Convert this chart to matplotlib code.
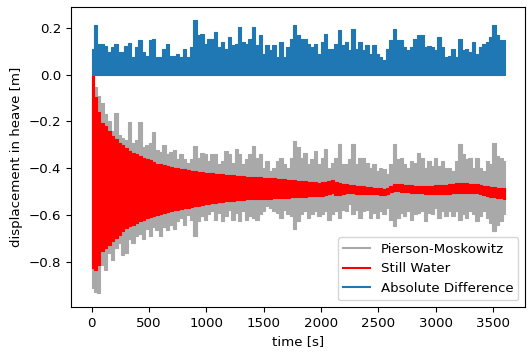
"""Heave displacement of the buoy: irregular sea (Pierson-Moskowitz) vs still water.

Each series is stored as its envelope (upper/lower extremes) sampled every
30 s over the one hour run, and drawn as a stepped band.
"""

import numpy as np
import matplotlib.pyplot as plt

SAMPLE_STEP = 30  # seconds between envelope samples

# Pierson-Moskowitz response, upper and lower extremes [m]
PM_UPPER = [
    -0.030, -0.054, -0.090, -0.120, -0.170, -0.200, -0.240, -0.162, -0.260, -0.270,
    -0.280, -0.204, -0.290, -0.280, -0.204, -0.310, -0.300, -0.290, -0.247, -0.320,
    -0.330, -0.300, -0.340, -0.330, -0.320, -0.361, -0.340, -0.361, -0.376, -0.361,
    -0.304, -0.354, -0.333, -0.340, -0.369, -0.340, -0.340, -0.383, -0.369, -0.326,
    -0.340, -0.376, -0.319, -0.340, -0.383, -0.361, -0.340, -0.304, -0.354, -0.340,
    -0.397, -0.369, -0.411, -0.397, -0.369, -0.354, -0.383, -0.397, -0.354, -0.283,
    -0.311, -0.354, -0.333, -0.383, -0.361, -0.326, -0.383, -0.354, -0.319, -0.397,
    -0.376, -0.354, -0.297, -0.380, -0.383, -0.361, -0.297, -0.383, -0.354, -0.354,
    -0.376, -0.397, -0.383, -0.411, -0.397, -0.404, -0.426, -0.383, -0.297, -0.361,
    -0.354, -0.383, -0.397, -0.369, -0.376, -0.333, -0.354, -0.397, -0.370, -0.390,
    -0.354, -0.390, -0.369, -0.397, -0.397, -0.411, -0.369, -0.297, -0.340, -0.361,
    -0.354, -0.397, -0.354, -0.397, -0.411, -0.369, -0.383, -0.290, -0.347, -0.354,
    -0.369,
]
PM_LOWER = [
    -0.911, -0.926, -0.933, -0.811, -0.833, -0.760, -0.790, -0.740, -0.720, -0.770,
    -0.760, -0.700, -0.720, -0.690, -0.680, -0.700, -0.660, -0.690, -0.650, -0.665,
    -0.690, -0.650, -0.665, -0.640, -0.660, -0.625, -0.610, -0.640, -0.600, -0.619,
    -0.690, -0.626, -0.604, -0.619, -0.597, -0.583, -0.619, -0.590, -0.626, -0.604,
    -0.576, -0.619, -0.590, -0.626, -0.583, -0.619, -0.604, -0.611, -0.619, -0.597,
    -0.583, -0.560, -0.569, -0.583, -0.590, -0.611, -0.576, -0.597, -0.604, -0.661,
    -0.626, -0.597, -0.583, -0.611, -0.597, -0.583, -0.604, -0.597, -0.583, -0.619,
    -0.597, -0.583, -0.611, -0.576, -0.583, -0.554, -0.597, -0.576, -0.611, -0.583,
    -0.576, -0.611, -0.590, -0.611, -0.583, -0.597, -0.569, -0.619, -0.647, -0.611,
    -0.590, -0.604, -0.583, -0.619, -0.597, -0.590, -0.583, -0.626, -0.590, -0.597,
    -0.569, -0.611, -0.583, -0.604, -0.583, -0.604, -0.583, -0.619, -0.597, -0.611,
    -0.583, -0.597, -0.626, -0.604, -0.583, -0.611, -0.633, -0.669, -0.640, -0.626,
    -0.597,
]

# Still water decay test, upper and lower extremes [m]
SW_UPPER = [
    0.000, -0.097, -0.160, -0.207, -0.220, -0.240, -0.261, -0.275, -0.290, -0.300,
    -0.315, -0.325, -0.333, -0.340, -0.347, -0.354, -0.360, -0.366, -0.373, -0.380,
    -0.383, -0.387, -0.390, -0.394, -0.397, -0.400, -0.402, -0.405, -0.407, -0.410,
    -0.412, -0.414, -0.416, -0.418, -0.420, -0.421, -0.423, -0.424, -0.426, -0.427,
    -0.428, -0.430, -0.431, -0.432, -0.434, -0.435, -0.436, -0.437, -0.438, -0.438,
    -0.440, -0.442, -0.441, -0.443, -0.445, -0.446, -0.447, -0.449, -0.450, -0.452,
    -0.453, -0.455, -0.456, -0.457, -0.459, -0.460, -0.461, -0.460, -0.458, -0.455,
    -0.452, -0.457, -0.462, -0.466, -0.469, -0.470, -0.472, -0.474, -0.475, -0.476,
    -0.478, -0.480, -0.482, -0.483, -0.486, -0.489, -0.484, -0.474, -0.466, -0.467,
    -0.469, -0.470, -0.471, -0.473, -0.474, -0.475, -0.475, -0.476, -0.476, -0.475,
    -0.473, -0.472, -0.471, -0.470, -0.469, -0.466, -0.463, -0.461, -0.462, -0.464,
    -0.466, -0.467, -0.469, -0.472, -0.474, -0.476, -0.478, -0.480, -0.482, -0.483,
    -0.484,
]
SW_LOWER = [
    -0.826, -0.833, -0.811, -0.754, -0.740, -0.726, -0.711, -0.697, -0.683, -0.669,
    -0.654, -0.647, -0.640, -0.633, -0.626, -0.619, -0.614, -0.609, -0.604, -0.600,
    -0.594, -0.590, -0.586, -0.583, -0.580, -0.577, -0.574, -0.571, -0.568, -0.565,
    -0.562, -0.559, -0.556, -0.553, -0.551, -0.549, -0.547, -0.545, -0.543, -0.541,
    -0.540, -0.538, -0.537, -0.535, -0.534, -0.533, -0.532, -0.531, -0.532, -0.531,
    -0.530, -0.529, -0.529, -0.528, -0.527, -0.526, -0.526, -0.525, -0.524, -0.523,
    -0.523, -0.522, -0.521, -0.520, -0.520, -0.519, -0.518, -0.517, -0.514, -0.510,
    -0.506, -0.512, -0.516, -0.510, -0.505, -0.506, -0.507, -0.508, -0.509, -0.509,
    -0.510, -0.511, -0.511, -0.511, -0.512, -0.512, -0.508, -0.502, -0.497, -0.498,
    -0.500, -0.502, -0.503, -0.504, -0.505, -0.506, -0.507, -0.508, -0.510, -0.511,
    -0.510, -0.510, -0.510, -0.509, -0.509, -0.507, -0.505, -0.504, -0.504, -0.505,
    -0.505, -0.505, -0.507, -0.510, -0.514, -0.519, -0.521, -0.523, -0.525, -0.526,
    -0.533,
]

# |PM - SW|, peak value in each sample window [m]
ABS_DIFF_PEAK = [
    0.110, 0.210, 0.131, 0.131, 0.120, 0.096, 0.117, 0.131, 0.096, 0.096,
    0.120, 0.134, 0.074, 0.117, 0.149, 0.096, 0.081, 0.146, 0.153, 0.074,
    0.074, 0.110, 0.131, 0.081, 0.081, 0.089, 0.074, 0.110, 0.074, 0.117,
    0.231, 0.167, 0.171, 0.131, 0.153, 0.153, 0.181, 0.117, 0.139, 0.110,
    0.160, 0.124, 0.131, 0.203, 0.139, 0.131, 0.153, 0.203, 0.125, 0.167,
    0.089, 0.124, 0.103, 0.124, 0.074, 0.139, 0.074, 0.117, 0.153, 0.210,
    0.167, 0.153, 0.153, 0.131, 0.117, 0.131, 0.089, 0.139, 0.174, 0.110,
    0.110, 0.131, 0.189, 0.125, 0.139, 0.103, 0.196, 0.110, 0.139, 0.103,
    0.124, 0.089, 0.124, 0.089, 0.074, 0.060, 0.110, 0.146, 0.196, 0.146,
    0.146, 0.117, 0.103, 0.117, 0.153, 0.167, 0.167, 0.117, 0.120, 0.117,
    0.103, 0.160, 0.117, 0.074, 0.081, 0.110, 0.074, 0.153, 0.103, 0.110,
    0.096, 0.139, 0.089, 0.117, 0.131, 0.139, 0.160, 0.210, 0.167, 0.146,
    0.146,
]

GREY = "darkgray"
RED = "red"
BLUE = "#1f77b4"

time = np.arange(len(PM_UPPER)) * SAMPLE_STEP
zeros = np.zeros(len(ABS_DIFF_PEAK))

plt.rcParams["font.size"] = 9.6

fig = plt.figure(figsize=(5.31, 3.56), dpi=100)
ax = fig.add_axes([0.134, 0.138, 0.855, 0.843])

ax.fill_between(time, PM_LOWER, PM_UPPER, step="mid",
                facecolor=GREY, edgecolor=GREY, linewidth=0.8)
ax.fill_between(time, SW_LOWER, SW_UPPER, step="mid",
                facecolor=RED, edgecolor=RED, linewidth=0.8)
ax.fill_between(time, zeros, ABS_DIFF_PEAK, step="mid",
                facecolor=BLUE, edgecolor=BLUE, linewidth=0.8)

# line handles for the legend
ax.plot([], [], color=GREY, lw=1.5, label="Pierson-Moskowitz")
ax.plot([], [], color=RED, lw=1.5, label="Still Water")
ax.plot([], [], color=BLUE, lw=1.5, label="Absolute Difference")

ax.set_xlabel("time [s]")
ax.set_ylabel("displacement in heave [m]")
ax.set_xticks(np.arange(0, 3501, 500))
ax.set_yticks([-0.8, -0.6, -0.4, -0.2, 0.0, 0.2])
ax.legend(loc="lower right")

fig.savefig("out.png", dpi=100)
